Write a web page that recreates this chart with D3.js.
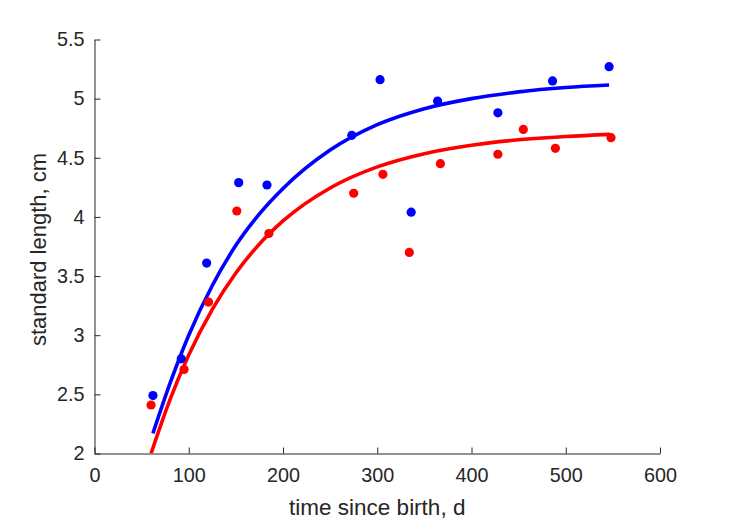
<!DOCTYPE html>
<html>
<head>
<meta charset="utf-8">
<script src="https://cdn.jsdelivr.net/npm/d3@7"></script>
<style>
  html, body { margin: 0; padding: 0; background: #fff; }
  svg { display: block; }
  text { font-family: "Liberation Sans", Arial, Helvetica, sans-serif; fill: #262626; }
</style>
</head>
<body>
<svg id="chart" width="729" height="521"></svg>
<script>
// ---- data ----
const blueDays   = [62, 92, 119, 153, 183, 273, 303, 336, 364, 428, 486, 546];
const blueLength = [2.49, 2.80, 3.61, 4.29, 4.27, 4.69, 5.16, 4.04, 4.98, 4.88, 5.15, 5.27];
const redDays    = [60, 95, 121, 151, 185, 275, 306, 334, 367, 428, 455, 489, 548];
const redLength  = [2.41, 2.71, 3.28, 4.05, 3.86, 4.20, 4.36, 3.70, 4.45, 4.53, 4.74, 4.58, 4.67];

// fitted growth curves
const blueFitDays   = [62, 80, 100, 125, 150, 175, 200, 250, 300, 350, 400, 450, 500, 546];
const blueFitLength = [2.17, 2.59, 3.00, 3.42, 3.76, 4.025, 4.24, 4.565, 4.78, 4.915, 5.00, 5.057, 5.094, 5.115];
const redFitDays    = [60, 80, 100, 125, 150, 175, 200, 250, 300, 350, 400, 450, 500, 547];
const redFitLength  = [2.00, 2.454, 2.833, 3.219, 3.526, 3.771, 3.966, 4.245, 4.423, 4.535, 4.606, 4.652, 4.680, 4.698];

const xTicks = [0, 100, 200, 300, 400, 500, 600];
const yTicks = [2, 2.5, 3, 3.5, 4, 4.5, 5, 5.5];
const xLabel = "time since birth, d";
const yLabel = "standard length, cm";

// ---- layout ----
const svg = d3.select("#chart");
const mLeft = 94.5, mRight = 660, mTop = 39.5, mBottom = 453.5;
const axisColor = "#262626";
const blue = "#0000ff", red = "#ff0000";

const x = d3.scaleLinear().domain([0, 600]).range([mLeft, mRight]);
const y = d3.scaleLinear().domain([2, 5.5]).range([mBottom, mTop]);

svg.append("defs").append("clipPath").attr("id", "clip")
  .append("rect").attr("x", mLeft).attr("y", mTop)
  .attr("width", mRight - mLeft).attr("height", mBottom - mTop);

// axes
const gx = svg.append("g").attr("transform", `translate(0,${mBottom})`)
  .call(d3.axisBottom(x).tickValues(xTicks).tickFormat(d3.format("d"))
        .tickSizeInner(-6).tickSizeOuter(0).tickPadding(14));
const gy = svg.append("g").attr("transform", `translate(${mLeft},0)`)
  .call(d3.axisLeft(y).tickValues(yTicks).tickFormat(d => String(d))
        .tickSizeInner(-6).tickSizeOuter(0).tickPadding(10));

[gx, gy].forEach(g => {
  g.select(".domain").attr("stroke", axisColor).attr("stroke-width", 1);
  g.selectAll(".tick line").attr("stroke", axisColor).attr("stroke-width", 1);
  g.selectAll(".tick text").attr("fill", axisColor)
    .style("font-size", "19.8px")
    .style("font-family", '"Liberation Sans", Arial, sans-serif');
});

// axis labels
svg.append("text").attr("x", (mLeft + mRight) / 2).attr("y", 515)
  .attr("text-anchor", "middle").style("font-size", "22.5px").text(xLabel);
svg.append("text")
  .attr("transform", `translate(46,${(mTop + mBottom) / 2 + 3}) rotate(-90)`)
  .attr("text-anchor", "middle").style("font-size", "22px").text(yLabel);

// fit lines
const plot = svg.append("g").attr("clip-path", "url(#clip)");
const line = d3.line().x(d => x(d[0])).y(d => y(d[1])).curve(d3.curveMonotoneX);

plot.append("path")
  .datum(blueFitDays.map((d, i) => [d, blueFitLength[i]]))
  .attr("d", line).attr("fill", "none").attr("stroke", blue)
  .attr("stroke-width", 3.6).attr("stroke-linejoin", "round");
plot.append("path")
  .datum(redFitDays.map((d, i) => [d, redFitLength[i]]))
  .attr("d", line).attr("fill", "none").attr("stroke", red)
  .attr("stroke-width", 3.6).attr("stroke-linejoin", "round");

// data points
svg.append("g").selectAll("circle.red")
  .data(redDays.map((d, i) => [d, redLength[i]]))
  .join("circle").attr("class", "red")
  .attr("cx", d => x(d[0])).attr("cy", d => y(d[1])).attr("r", 4.6).attr("fill", red);
svg.append("g").selectAll("circle.blue")
  .data(blueDays.map((d, i) => [d, blueLength[i]]))
  .join("circle").attr("class", "blue")
  .attr("cx", d => x(d[0])).attr("cy", d => y(d[1])).attr("r", 4.6).attr("fill", blue);
</script>
</body>
</html>
